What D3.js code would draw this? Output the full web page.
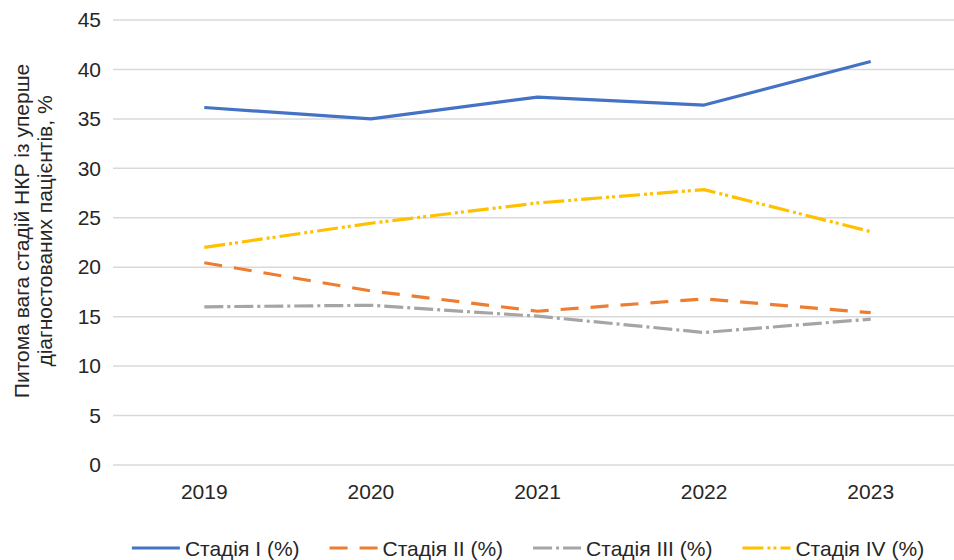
<!DOCTYPE html>
<html>
<head>
<meta charset="utf-8">
<script src="https://cdn.jsdelivr.net/npm/d3@7"></script>
<style>
  html, body { margin: 0; padding: 0; background: #fff; }
  svg { display: block; font-family: "Liberation Sans", Arial, sans-serif; }
</style>
</head>
<body>
<svg id="chart" width="954" height="560"></svg>
<script>
// Years on the category axis
const years = ["2019", "2020", "2021", "2022", "2023"];

// Share of each stage among newly diagnosed patients, %
const stage1 = [36.15, 35.0, 37.2, 36.4, 40.8];
const stage2 = [20.45, 17.6, 15.55, 16.8, 15.4];
const stage3 = [16.0, 16.15, 15.05, 13.4, 14.75];
const stage4 = [22.0, 24.45, 26.5, 27.85, 23.6];

const seriesNames = ["Стадія I (%)", "Стадія II (%)", "Стадія III (%)", "Стадія IV (%)"];
const yTicks = [0, 5, 10, 15, 20, 25, 30, 35, 40, 45];

const series = [
  { name: seriesNames[0], values: stage1, color: "#4472C4", dash: null },
  { name: seriesNames[1], values: stage2, color: "#ED7D31", dash: "18,12" },
  { name: seriesNames[2], values: stage3, color: "#A5A5A5", dash: "19,4,3,4" },
  { name: seriesNames[3], values: stage4, color: "#FFC000", dash: "21,4,3,3,3,4" }
];

const FONT = 21;
const TEXT_COLOR = "#262626";

const svg = d3.select("#chart");
const margin = { top: 20, right: 0, bottom: 95, left: 121 };
const width = 954, height = 560;

const x = d3.scaleBand().domain(years).range([margin.left, width - margin.right]);
const y = d3.scaleLinear().domain([0, 45]).range([height - margin.bottom, margin.top]);

// Horizontal gridlines
svg.append("g")
  .selectAll("line")
  .data(yTicks)
  .join("line")
  .attr("x1", margin.left - 8)
  .attr("x2", width - margin.right)
  .attr("y1", d => y(d))
  .attr("y2", d => y(d))
  .attr("stroke", "#D9D9D9")
  .attr("stroke-width", 1.5);

// Y axis labels
const yAxis = d3.axisLeft(y).tickValues(yTicks).tickSize(0).tickPadding(0);
svg.append("g")
  .attr("transform", `translate(${margin.left - 20},0)`)
  .call(yAxis)
  .call(g => g.select(".domain").remove())
  .selectAll("text")
  .attr("font-size", FONT)
  .attr("font-family", "Liberation Sans, Arial, sans-serif")
  .attr("fill", TEXT_COLOR);

// X axis labels
const xAxis = d3.axisBottom(x).tickSize(0).tickPadding(0);
svg.append("g")
  .attr("transform", `translate(0,${height - margin.bottom + 19})`)
  .call(xAxis)
  .call(g => g.select(".domain").remove())
  .selectAll("text")
  .attr("font-size", FONT)
  .attr("font-family", "Liberation Sans, Arial, sans-serif")
  .attr("fill", TEXT_COLOR);

// Y axis title (two lines)
const title = svg.append("text")
  .attr("transform", "translate(29,231) rotate(-90)")
  .attr("text-anchor", "middle")
  .attr("font-size", FONT)
  .attr("fill", TEXT_COLOR);
title.append("tspan").attr("x", 0).attr("dy", 0).text("Питома вага стадій НКР із уперше");
title.append("tspan").attr("x", 0).attr("dy", 23).text("діагностованих пацієнтів, %");

// Lines
const line = d3.line()
  .x((d, i) => x(years[i]) + x.bandwidth() / 2)
  .y(d => y(d));

svg.append("g")
  .selectAll("path")
  .data(series)
  .join("path")
  .attr("d", d => line(d.values))
  .attr("fill", "none")
  .attr("stroke", d => d.color)
  .attr("stroke-width", 3.2)
  .attr("stroke-dasharray", d => d.dash)
  .attr("stroke-linejoin", "round");

// Legend
const legend = svg.append("g").attr("class", "legend");
const legendY = 548;
const sampleLen = 48;
const itemGap = 30;
let cursor = 0;
series.forEach(s => {
  const g = legend.append("g");
  g.append("line")
    .attr("x1", cursor).attr("x2", cursor + sampleLen)
    .attr("y1", legendY).attr("y2", legendY)
    .attr("stroke", s.color)
    .attr("stroke-width", 3.2)
    .attr("stroke-dasharray", s.dash);
  const t = g.append("text")
    .attr("x", cursor + sampleLen + 5)
    .attr("y", legendY + 7.5)
    .attr("font-size", FONT)
    .attr("fill", TEXT_COLOR)
    .text(s.name);
  const w = t.node().getComputedTextLength();
  cursor += sampleLen + 5 + w + itemGap;
});
const totalW = cursor - itemGap;
legend.attr("transform", `translate(${528 - totalW / 2},0)`);
</script>
</body>
</html>
